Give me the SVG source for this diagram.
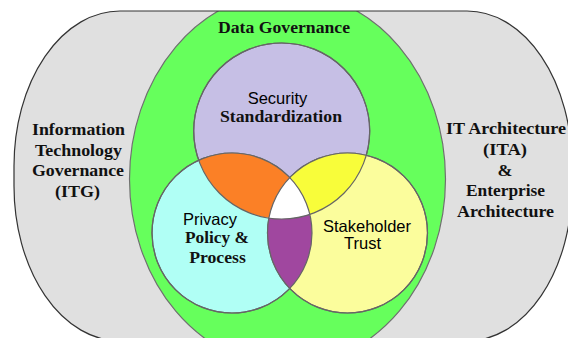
<svg xmlns="http://www.w3.org/2000/svg" width="568" height="338" viewBox="0 0 568 338">
  <style>
    .serif { font-family: "Liberation Serif", "Times New Roman", serif; font-weight: bold; fill: #111; text-anchor: middle; }
    .sans { font-family: "Liberation Sans", Arial, sans-serif; fill: #000; text-anchor: middle; }
    .ring { stroke: #666; stroke-width: 1.2; }
    .outline { fill: none; stroke: #666; stroke-width: 1.2; }
  </style>
  <defs>
    <path id="outerShape" d="M120,11 H467 A105,155 0 0 1 572,166 V186 A105,155 0 0 1 467,341 H120 A106,155 0 0 1 14,186 V166 A106,155 0 0 1 120,11 Z"/>
    <clipPath id="clipOuter"><use href="#outerShape"/></clipPath>
    <clipPath id="clipTop"><circle cx="281.7" cy="131" r="88"/></clipPath>
    <clipPath id="clipLeft"><circle cx="232" cy="233" r="80"/></clipPath>
  </defs>
  <rect width="568" height="338" fill="#ffffff"/>

  <g id="it-governance">
    <use href="#outerShape" fill="#e0e0e0"/>
  </g>

  <g id="data-governance">
    <ellipse cx="287.5" cy="179" rx="158" ry="187" fill="#66ff5c" stroke="#707070" stroke-width="1.2" clip-path="url(#clipOuter)"/>
    <use href="#outerShape" fill="none" stroke="#333" stroke-width="1.2"/>
    <text class="serif" x="284" y="33" font-size="17.5" textLength="132" lengthAdjust="spacingAndGlyphs">Data Governance</text>
  </g>

  <g id="security">
    <circle class="ring" cx="281.7" cy="131" r="88" fill="#c6bfe5"/>
  </g>
  <g id="privacy">
    <circle class="ring" cx="232" cy="233" r="80" fill="#b0fff5"/>
  </g>
  <g id="stakeholder">
    <circle class="ring" cx="347.5" cy="233" r="80" fill="#fbfd9c"/>
  </g>

  <g id="overlaps">
    <g clip-path="url(#clipTop)"><circle cx="232" cy="233" r="80" fill="#fb8026"/></g>
    <g clip-path="url(#clipTop)"><circle cx="347.5" cy="233" r="80" fill="#f8fd3a"/></g>
    <g clip-path="url(#clipLeft)"><circle cx="347.5" cy="233" r="80" fill="#a0479f"/></g>
    <g clip-path="url(#clipTop)"><g clip-path="url(#clipLeft)"><circle cx="347.5" cy="233" r="80" fill="#ffffff"/></g></g>
  </g>

  <g id="outlines">
    <circle class="outline" cx="281.7" cy="131" r="88"/>
    <circle class="outline" cx="232" cy="233" r="80"/>
    <circle class="outline" cx="347.5" cy="233" r="80"/>
  </g>

  <g id="connectors"></g>

  <g id="security-label">
    <text class="sans" x="277.5" y="104" font-size="16.5">Security</text>
    <text class="serif" x="281" y="121.5" font-size="16" textLength="122" lengthAdjust="spacingAndGlyphs">Standardization</text>
  </g>
  <g id="privacy-label">
    <text class="sans" x="210" y="224.5" font-size="16.5">Privacy</text>
    <text class="serif" x="217" y="243" font-size="17" textLength="64" lengthAdjust="spacingAndGlyphs">Policy &amp;</text>
    <text class="serif" x="217.5" y="263" font-size="17" textLength="56.7" lengthAdjust="spacingAndGlyphs">Process</text>
  </g>
  <g id="stakeholder-label">
    <text class="sans" x="367" y="232" font-size="16.5">Stakeholder</text>
    <text class="sans" x="362.5" y="249" font-size="16.5">Trust</text>
  </g>
  <g id="itg-label">
    <text class="serif" x="78.5" y="135" font-size="17" textLength="93" lengthAdjust="spacingAndGlyphs">Information</text>
    <text class="serif" x="78.5" y="155.5" font-size="17" textLength="87" lengthAdjust="spacingAndGlyphs">Technology</text>
    <text class="serif" x="78" y="176" font-size="17" textLength="92" lengthAdjust="spacingAndGlyphs">Governance</text>
    <text class="serif" x="77.5" y="196.5" font-size="17" textLength="45" lengthAdjust="spacingAndGlyphs">(ITG)</text>
  </g>
  <g id="ita-label">
    <text class="serif" x="506" y="134" font-size="17" textLength="120" lengthAdjust="spacingAndGlyphs">IT Architecture</text>
    <text class="serif" x="505" y="155" font-size="17" textLength="44" lengthAdjust="spacingAndGlyphs">(ITA)</text>
    <text class="serif" x="505" y="175.5" font-size="17" textLength="15" lengthAdjust="spacingAndGlyphs">&amp;</text>
    <text class="serif" x="505.5" y="196" font-size="17" textLength="79" lengthAdjust="spacingAndGlyphs">Enterprise</text>
    <text class="serif" x="505.5" y="217" font-size="17" textLength="97" lengthAdjust="spacingAndGlyphs">Architecture</text>
  </g>
</svg>
